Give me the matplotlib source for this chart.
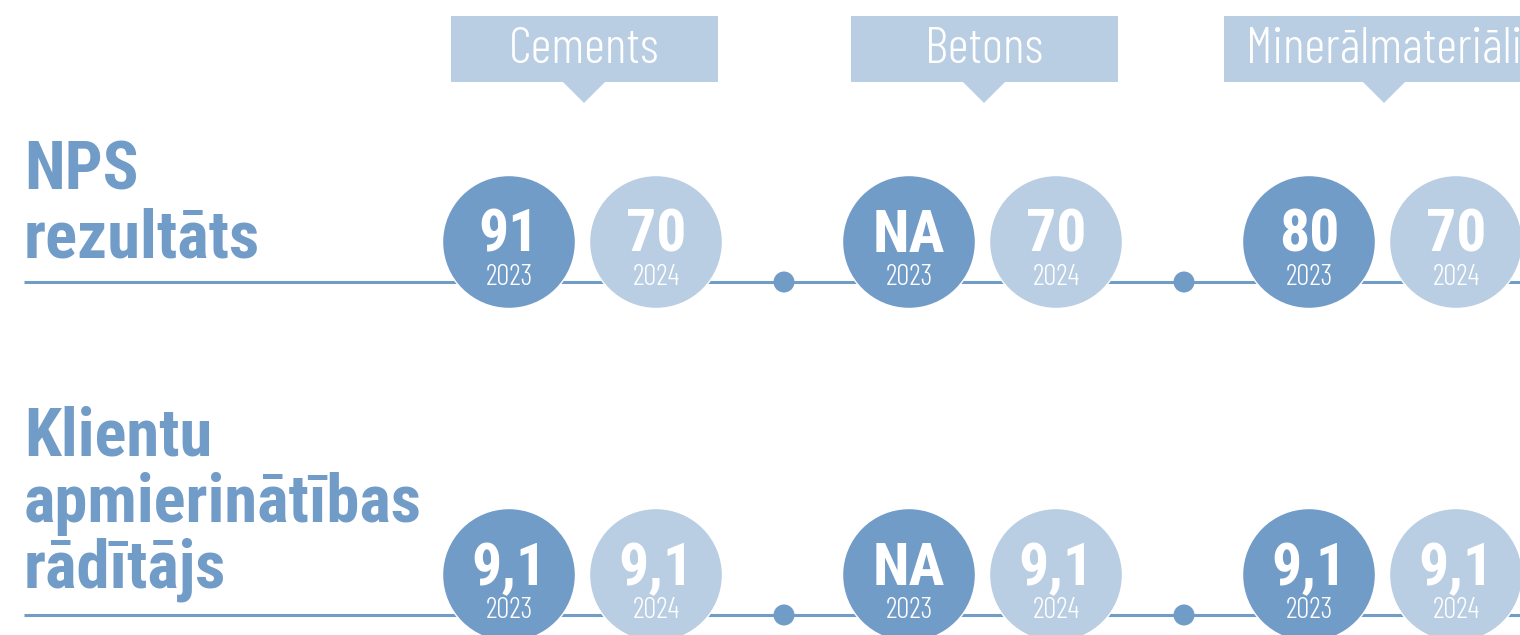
import matplotlib
matplotlib.use("Agg")
import matplotlib.pyplot as plt
from matplotlib.patches import Circle, Rectangle, Polygon

categories = ["Cements", "Betons", "Minerālmateriāli"]
metric_titles = [["NPS", "rezultāts"], ["Klientu", "apmierinātības", "rādītājs"]]
years = ["2023", "2024"]
nps_2023 = ["91", "NA", "80"]
nps_2024 = ["70", "70", "70"]
csat_2023 = ["9,1", "NA", "9,1"]
csat_2024 = ["9,1", "9,1", "9,1"]

DARK = "#729cc8"
LIGHT = "#b9cee3"
FONT = ["Roboto Condensed", "DejaVu Sans"]
LIGHTFONT = ["Barlow Condensed", "Roboto Condensed", "DejaVu Sans"]

fig = plt.figure(figsize=(15.2, 6.35), dpi=100)
ax = fig.add_axes([0, 0, 1, 1])
ax.set_xlim(0, 1520)
ax.set_ylim(635, 0)
ax.axis("off")

rows = [(nps_2023, nps_2024), (csat_2023, csat_2024)]
row_line_y = [282, 615]
row_circ_y = [242, 575]
title_baselines = [[190, 257], [456, 522, 588]]

for r, (v23, v24) in enumerate(rows):
    ly = row_line_y[r]
    ax.plot([24, 1520], [ly, ly], color=DARK, lw=2.2, solid_capstyle="butt", zorder=1)
    for t, b in zip(metric_titles[r], title_baselines[r]):
        ax.text(24, b, t, color=DARK, fontsize=48, fontweight="bold",
                family=FONT, va="baseline", ha="left")
    for i in range(len(categories)):
        cx = 584 + 400 * i
        for j, (vals, col) in enumerate([(v23, DARK), (v24, LIGHT)]):
            x = cx - 75 + 147 * j
            ax.add_patch(Circle((x, row_circ_y[r]), 66.5, facecolor=col, edgecolor="white", lw=1, zorder=3))
            ax.text(x, row_circ_y[r] + 10, vals[i], color="white", fontsize=43, fontweight="bold",
                    family=FONT, ha="center", va="baseline", zorder=4)
            ax.text(x, row_circ_y[r] + 43, years[j], color="white", fontsize=21, fontweight=300,
                    family=LIGHTFONT, ha="center", va="baseline", zorder=4)
        if i < len(categories) - 1:
            ax.add_patch(Circle((cx + 200, ly), 10.5, facecolor=DARK, edgecolor="none", zorder=2))

half_w = [133.5, 133.5, 160]
for i, c in enumerate(categories):
    cx = 584 + 400 * i
    ax.add_patch(Rectangle((cx - half_w[i], 16), 2 * half_w[i], 65.5, facecolor=LIGHT, edgecolor="none"))
    ax.add_patch(Polygon([(cx - 22, 81), (cx + 22, 81), (cx, 103)], closed=True, facecolor=LIGHT, edgecolor="none"))
    ax.text(cx, 63, c, color="white", fontsize=37, fontweight=300, family=LIGHTFONT,
            ha="center", va="baseline")

fig.savefig("out.png", dpi=100)
